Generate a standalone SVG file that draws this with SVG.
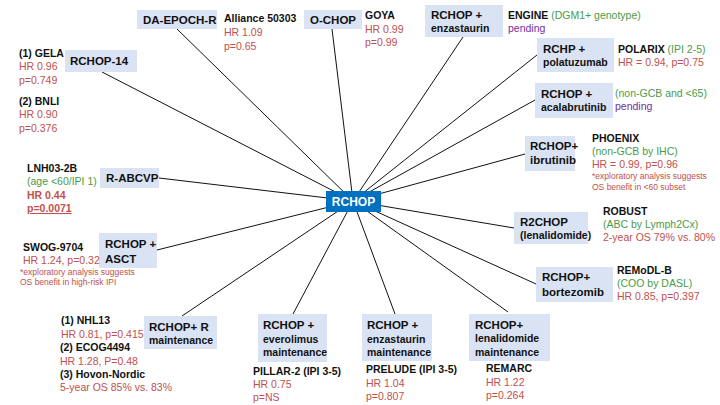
<svg xmlns="http://www.w3.org/2000/svg" width="720" height="405" viewBox="0 0 720 405">
<style>
text{font-family:"Liberation Sans",Arial,sans-serif;font-size:10.5px}
.b{font-weight:bold;fill:#111}
.r{fill:#c0504d}
.g{fill:#4a9a4a}
.p{fill:#7030a0}
.s{font-size:8.5px;fill:#c0504d}
.box{fill:#dae3f3}
.bl{font-weight:bold;font-size:11.5px;fill:#111}
.sm{font-weight:bold;font-size:10.5px;fill:#111}
#edges line{stroke:#111;stroke-width:1}
</style>
<rect width="720" height="405" fill="#fff"/>
<g id="edges">
<line x1="177" y1="29" x2="353" y2="201"/>
<line x1="332" y1="29" x2="353" y2="201"/>
<line x1="463" y1="37" x2="353" y2="201"/>
<line x1="537" y1="55" x2="353" y2="201"/>
<line x1="535" y1="100" x2="353" y2="201"/>
<line x1="525" y1="154" x2="353" y2="201"/>
<line x1="514" y1="228" x2="353" y2="201"/>
<line x1="536" y1="284" x2="353" y2="201"/>
<line x1="508" y1="312" x2="353" y2="201"/>
<line x1="395" y1="314" x2="353" y2="201"/>
<line x1="293" y1="314" x2="353" y2="201"/>
<line x1="182" y1="316" x2="353" y2="201"/>
<line x1="157" y1="250" x2="353" y2="201"/>
<line x1="159" y1="178" x2="353" y2="201"/>
<line x1="102" y1="72" x2="353" y2="201"/>
</g>
<g id="rchop"><rect x="326" y="191" width="55" height="21" fill="#0070c0"/><text x="353.5" y="206" text-anchor="middle" style="font-weight:bold;font-size:12px;fill:#fff">RCHOP</text></g>
<g id="daepoch"><rect class="box" x="137" y="10" width="80" height="19"/><text class="bl" x="143" y="24">DA-EPOCH-R</text>
<text class="b" x="224" y="22">Alliance 50303</text><text class="r" x="224" y="36">HR 1.09</text><text class="r" x="224" y="50">p=0.65</text></g>
<g id="ochop"><rect class="box" x="304" y="10" width="58" height="19"/><text class="bl" x="310" y="24">O-CHOP</text>
<text class="b" x="365" y="19">GOYA</text><text class="r" x="365" y="33">HR 0.99</text><text class="r" x="365" y="46">p=0.99</text></g>
<g id="enza"><rect class="box" x="425" y="5" width="78" height="32"/><text class="bl" x="431" y="19">RCHOP +</text><text class="sm" x="431" y="32">enzastaurin</text>
<text x="508" y="19"><tspan class="b">ENGINE</tspan><tspan class="g"> (DGM1+ genotype)</tspan></text><text class="p" x="508" y="32">pending</text></g>
<g id="pola"><rect class="box" x="537" y="38" width="77" height="34"/><text class="bl" x="543" y="53">RCHP +</text><text class="sm" x="543" y="66">polatuzumab</text>
<text x="618" y="53"><tspan class="b">POLARIX</tspan><tspan class="g"> (IPI 2-5)</tspan></text><text class="r" x="618" y="66">HR = 0.94, p=0.75</text></g>
<g id="acala"><rect class="box" x="535" y="83" width="78" height="35"/><text class="bl" x="541" y="98">RCHOP +</text><text class="sm" x="541" y="111">acalabrutinib</text>
<text class="g" x="615" y="97">(non-GCB and &lt;65)</text><text class="p" x="615" y="110">pending</text></g>
<g id="ibru"><rect class="box" x="525" y="136" width="50" height="35"/><text class="bl" x="530" y="150">RCHOP+</text><text class="bl" x="530" y="164">ibrutinib</text>
<text class="b" x="592" y="142">PHOENIX</text><text class="g" x="592" y="155">(non-GCB by IHC)</text><text class="r" x="592" y="168">HR = 0.99, p=0.96</text><text class="s" x="592" y="179">*exploratory analysis suggests</text><text class="s" x="592" y="190">OS benefit in &lt;60 subset</text></g>
<g id="r2chop"><rect class="box" x="514" y="212" width="74" height="32"/><text class="bl" x="520" y="226">R2CHOP</text><text class="sm" x="520" y="239">(lenalidomide)</text>
<text class="b" x="603" y="215">ROBUST</text><text class="g" x="603" y="228">(ABC by Lymph2Cx)</text><text class="r" x="603" y="241">2-year OS 79% vs. 80%</text></g>
<g id="bort"><rect class="box" x="536" y="267" width="77" height="35"/><text class="bl" x="542" y="281">RCHOP+</text><text class="bl" x="542" y="296">bortezomib</text>
<text class="b" x="617" y="274">REMoDL-B</text><text class="g" x="617" y="287">(COO by DASL)</text><text class="r" x="617" y="300">HR 0.85, p=0.397</text></g>
<g id="lena"><rect class="box" x="469" y="314" width="81" height="47"/><text class="bl" x="475" y="329">RCHOP+</text><text class="sm" x="475" y="342">lenalidomide</text><text class="sm" x="475" y="356">maintenance</text>
<text class="b" x="486" y="372">REMARC</text><text class="r" x="486" y="386">HR 1.22</text><text class="r" x="486" y="399">p=0.264</text></g>
<g id="enzam"><rect class="box" x="362" y="314" width="70" height="47"/><text class="bl" x="367" y="329">RCHOP +</text><text class="sm" x="367" y="343">enzastaurin</text><text class="sm" x="367" y="356">maintenance</text>
<text class="b" x="366" y="373">PRELUDE (IPI 3-5)</text><text class="r" x="366" y="387">HR 1.04</text><text class="r" x="366" y="400">p=0.807</text></g>
<g id="evero"><rect class="box" x="258" y="314" width="69" height="48"/><text class="bl" x="263" y="329">RCHOP +</text><text class="sm" x="263" y="343">everolimus</text><text class="sm" x="263" y="356">maintenance</text>
<text class="b" x="253" y="375">PILLAR-2 (IPI 3-5)</text><text class="r" x="253" y="388">HR 0.75</text><text class="r" x="253" y="401">p=NS</text></g>
<g id="rmaint"><rect class="box" x="144" y="316" width="73" height="33"/><text class="bl" x="149" y="331">RCHOP+ R</text><text class="sm" x="149" y="344">maintenance</text>
<text class="b" x="61" y="324">(1) NHL13</text><text class="r" x="61" y="338">HR 0.81, p=0.415</text><text class="b" x="60" y="351">(2) ECOG4494</text><text class="r" x="60" y="365">HR 1.28, P=0.48</text><text class="b" x="60" y="378">(3) Hovon-Nordic</text><text class="r" x="60" y="391">5-year OS 85% vs. 83%</text></g>
<g id="asct"><rect class="box" x="99" y="233" width="58" height="35"/><text class="bl" x="105" y="248">RCHOP +</text><text class="bl" x="105" y="263">ASCT</text>
<text class="b" x="23" y="251">SWOG-9704</text><text class="r" x="23" y="264">HR 1.24, p=0.32</text><text class="s" x="20" y="275">*exploratory analysis suggests</text><text class="s" x="20" y="285">OS benefit in high-risk IPI</text></g>
<g id="rabcvp"><rect class="box" x="100" y="168" width="59" height="20"/><text class="bl" x="106" y="182">R-ABCVP</text>
<text class="b" x="27" y="172">LNH03-2B</text><text class="g" x="27" y="185">(age &lt;60/IPI 1)</text><text class="r" x="27" y="199" font-weight="bold">HR 0.44</text><text class="r" x="27" y="212" font-weight="bold" text-decoration="underline">p=0.0071</text></g>
<g id="rchop14"><rect class="box" x="65" y="50" width="72" height="22"/><text class="bl" x="70" y="65">RCHOP-14</text>
<text class="b" x="19" y="57">(1) GELA</text><text class="r" x="19" y="70">HR 0.96</text><text class="r" x="19" y="84">p=0.749</text><text class="b" x="19" y="105">(2) BNLI</text><text class="r" x="19" y="118">HR 0.90</text><text class="r" x="19" y="132">p=0.376</text></g>
</svg>
